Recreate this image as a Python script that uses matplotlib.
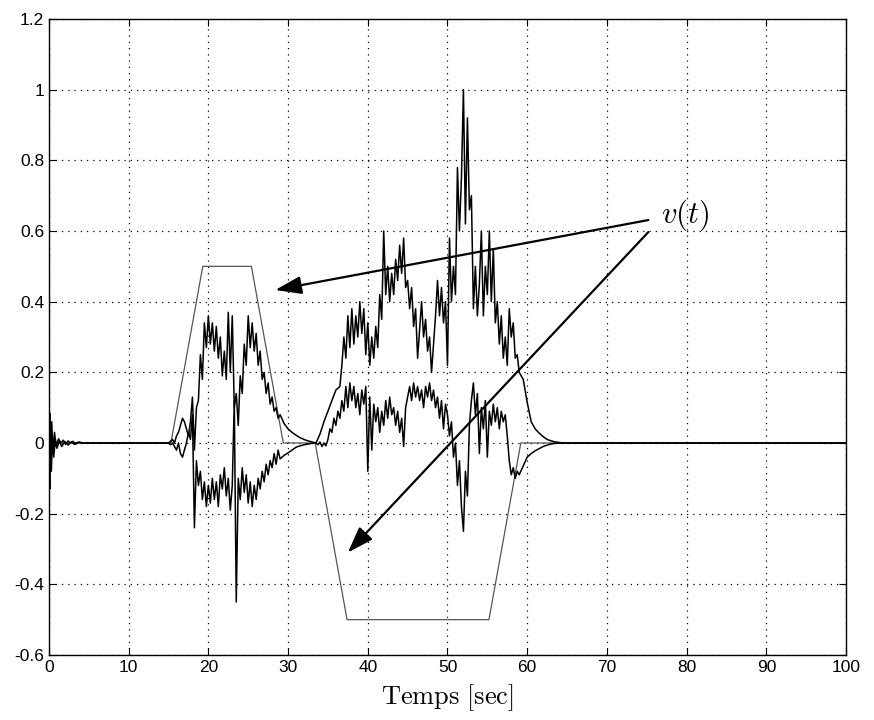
import numpy as np
import matplotlib
matplotlib.use("Agg")
import matplotlib.pyplot as plt

plt.rcParams['mathtext.fontset'] = 'cm'
plt.rcParams['font.family'] = ['Liberation Sans', 'DejaVu Sans']

# reference trapezoid (grey)
ref_t = [0, 15.3, 19.3, 25.4, 29.4, 33.4, 37.4, 55.2, 59.2, 100]
ref_v = [0, 0, 0.5, 0.5, 0, 0, -0.5, -0.5, 0, 0]

STEP = 0.25

# upper signal, read piece by piece
up_t0 = [0, 0.1, 0.2, 0.35, 0.5, 0.7, 0.9, 1.2, 1.5, 1.8, 2.1, 2.4, 2.7, 3.0, 3.4, 3.8, 4.2, 14.75]
up_v0 = [0, 0.085, -0.05, 0.06, -0.03, 0.03, -0.01, 0.012, 0.0, 0.008, -0.004, 0.006, 0.0, 0.005, -0.003, 0.003, 0, 0]
up_v1 = [0, 0.005, 0.01, 0.0, 0.02, 0.03, 0.05, 0.07, 0.06, 0.04, 0.02, 0.06, 0.13, -0.02, 0.1,
         0.12, 0.25, 0.18, 0.34, 0.27, 0.36, 0.28, 0.34, 0.26, 0.33, 0.24, 0.3, 0.19, 0.26, 0.18,
         0.37, 0.2, 0.36, 0.1, 0.14, 0.05, 0.19, 0.14, 0.28, 0.22, 0.36, 0.27, 0.34, 0.26, 0.31,
         0.22, 0.26, 0.18, 0.2, 0.14, 0.17, 0.11, 0.13, 0.09, 0.1, 0.07, 0.08]  # from t=15
up_t2 = [29.5, 30, 30.5, 31, 31.5, 32, 32.5, 33, 33.5, 34.0, 34.5, 35.0, 35.5, 36.0, 36.5]
up_v2 = [0.055, 0.04, 0.03, 0.022, 0.015, 0.01, 0.006, 0.003, 0.0, 0.025, 0.06, 0.09, 0.12, 0.15, 0.16]
up_v3 = [0.22, 0.3, 0.24, 0.36, 0.27, 0.38, 0.28, 0.36, 0.3, 0.4, 0.31, 0.38, 0.25, 0.34, 0.22,
         0.3, 0.24, 0.33, 0.27, 0.42, 0.35, 0.6, 0.42, 0.5, 0.4, 0.48, 0.42, 0.52, 0.46, 0.56,
         0.48, 0.58, 0.44, 0.46, 0.38, 0.44, 0.33, 0.38, 0.24, 0.32, 0.4, 0.3, 0.35, 0.26, 0.3,
         0.2, 0.28, 0.36, 0.46, 0.36, 0.44, 0.34, 0.4, 0.22, 0.58, 0.4, 0.5, 0.42, 0.78, 0.6,
         0.75, 1.0, 0.62, 0.92, 0.66, 0.7, 0.38, 0.5, 0.36, 0.45, 0.6, 0.36, 0.5, 0.42, 0.6,
         0.4, 0.55, 0.34, 0.4, 0.28, 0.36, 0.24, 0.3, 0.22, 0.38, 0.3, 0.34, 0.24, 0.25, 0.2]  # from t=36.75
up_t4 = [59.5, 60, 60.5, 61, 61.5, 62, 62.5, 63, 63.5, 64.5, 100]
up_v4 = [0.18, 0.115, 0.06, 0.04, 0.028, 0.018, 0.01, 0.006, 0.003, 0, 0]

# lower / middle signal
lo_t0 = [0, 0.1, 0.2, 0.3, 0.45, 0.6, 0.8, 1.0, 1.3, 1.6, 2.0, 2.4, 2.8, 3.2, 3.6, 4.0, 14.75]
lo_v0 = [0, -0.13, 0.04, -0.08, 0.02, -0.04, 0.01, -0.015, 0.005, -0.01, 0.004, -0.006, 0.003, -0.004, 0.002, 0, 0]
lo_v1 = [0, -0.005, 0.0, -0.01, -0.02, 0.0, -0.03, -0.04, -0.02, 0.0, 0.03, 0.01, 0.08, -0.24, -0.05,
         -0.12, -0.08, -0.16, -0.11, -0.18, -0.12, -0.17, -0.1, -0.16, -0.11, -0.18, -0.09, -0.13, -0.07, -0.15,
         -0.1, -0.19, -0.12, 0.12, -0.45, -0.1, -0.16, -0.07, -0.14, -0.09, -0.17, -0.11, -0.18, -0.12, -0.16,
         -0.1, -0.13, -0.08, -0.11, -0.06, -0.09, -0.05, -0.07, -0.03, -0.06, -0.02, -0.045]  # from t=15
lo_t2 = [29.5, 30, 30.5, 31, 31.5, 32, 32.5, 33, 33.5]
lo_v2 = [-0.035, -0.028, -0.02, -0.012, -0.008, -0.005, -0.003, -0.001, 0]
lo_v3 = [-0.005, 0.003, -0.01, 0.0, -0.008, 0.01, 0.04, 0.03, 0.07, 0.05, 0.09, 0.07,
         0.12, 0.09, 0.16, 0.1, 0.17, 0.12, 0.16, 0.1, 0.14, 0.08, 0.15, 0.11, 0.16, -0.08, 0.13,
         -0.02, 0.11, 0.06, 0.1, 0.03, 0.09, 0.05, 0.12, 0.07, 0.13, 0.08, 0.1, 0.05, 0.09,
         0.03, 0.07, -0.01, 0.1, 0.13, 0.16, 0.12, 0.17, 0.13, 0.16, 0.12, 0.15, 0.1, 0.16,
         0.13, 0.17, 0.12, 0.15, 0.1, 0.13, 0.07, 0.12, 0.04, 0.11, 0.08, 0.02, 0.06, -0.04,
         0.0, -0.12, -0.05, -0.18, -0.25, -0.08, -0.15, 0.05, 0.12, 0.17, 0.08, 0.14, -0.03,
         0.1, 0.04, 0.12, -0.04, 0.09, 0.05, 0.11, 0.06, 0.1, 0.04, 0.09, 0.06, 0.08, 0.02,
         -0.05, -0.09, -0.07, -0.1, -0.08, -0.09]  # from t=33.75
lo_t4 = [59.5, 60, 60.5, 61, 61.5, 62, 62.5, 63, 63.5, 64.5, 100]
lo_v4 = [-0.065, -0.04, -0.03, -0.022, -0.016, -0.01, -0.006, -0.003, -0.001, 0, 0]


def seq(t0, v0, v1, s1, t2, v2, v3, s3, t4, v4):
    t = list(t0) + list(s1 + STEP * np.arange(len(v1))) + list(t2) \
        + list(s3 + STEP * np.arange(len(v3))) + list(t4)
    v = list(v0) + list(v1) + list(v2) + list(v3) + list(v4)
    return np.array(t), np.array(v)


t_up, v_up = seq(up_t0, up_v0, up_v1, 15.0, up_t2, up_v2, up_v3, 36.75, up_t4, up_v4)
t_lo, v_lo = seq(lo_t0, lo_v0, lo_v1, 15.0, lo_t2, lo_v2, lo_v3, 33.75, lo_t4, lo_v4)

fig = plt.figure(figsize=(8.74, 7.2), dpi=100)
ax = fig.add_axes([0.056, 0.0903, 0.912, 0.8833])

ax.plot(ref_t, ref_v, color='#555555', lw=0.9)
ax.plot(t_lo, v_lo, color='black', lw=1.1)
ax.plot(t_up, v_up, color='black', lw=1.1)

yt = np.round(np.arange(-0.6, 1.21, 0.2), 1)
ax.set_xlim(0, 100)
ax.set_ylim(-0.6, 1.2)
ax.set_xticks(np.arange(0, 101, 10))
ax.set_yticks(yt)
ax.set_yticklabels(['%g' % y for y in yt])
ax.grid(True, color='black', linestyle=(0, (1, 4)), linewidth=0.9)
ax.tick_params(direction='in', length=5, labelsize=12.5, top=True, right=True)
for s in ax.spines.values():
    s.set_linewidth(1.0)

ax.set_xlabel(r'$\mathrm{Temps\ [sec]}$', fontsize=19, labelpad=5)

ax.text(76.8, 0.645, r'$v(t)$', fontsize=22, ha='left', va='center')
arr = dict(arrowstyle='-|>,head_length=1.6,head_width=0.55', color='black', lw=1.6,
           shrinkA=0, shrinkB=0)
ax.annotate('', xy=(28.4, 0.433), xytext=(75.2, 0.631), arrowprops=arr)
ax.annotate('', xy=(37.5, -0.31), xytext=(75.2, 0.597), arrowprops=arr)

fig.savefig('out.png', dpi=100)
